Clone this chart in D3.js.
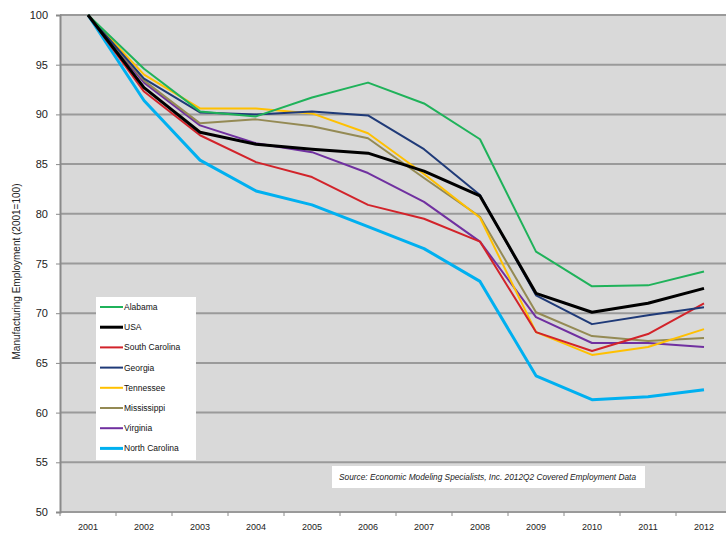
<!DOCTYPE html>
<html>
<head>
<meta charset="utf-8">
<script src="https://cdn.jsdelivr.net/npm/d3@7"></script>
<style>
  body { margin: 0; background: #fff; }
  svg { font-family: "Liberation Sans", Arial, sans-serif; }
</style>
</head>
<body>
<div id="chart"></div>
<script>
const years = ['2001', '2002', '2003', '2004', '2005', '2006', '2007', '2008', '2009', '2010', '2011', '2012'];
const yTicks = [50, 55, 60, 65, 70, 75, 80, 85, 90, 95, 100];

const alabama = [100, 94.6, 90.3, 89.8, 91.7, 93.2, 91.1, 87.5, 76.2, 72.7, 72.8, 74.2];
const usa = [100, 92.7, 88.2, 87.0, 86.5, 86.1, 84.3, 81.8, 72.0, 70.1, 71.0, 72.5];
const southCarolina = [100, 92.3, 87.9, 85.2, 83.7, 80.9, 79.5, 77.2, 68.1, 66.2, 67.9, 71.0];
const georgia = [100, 93.6, 90.2, 90.0, 90.3, 89.9, 86.5, 81.9, 71.8, 68.9, 69.8, 70.6];
const tennessee = [100, 94.0, 90.6, 90.6, 90.1, 88.1, 84.0, 79.6, 68.1, 65.8, 66.6, 68.4];
const mississippi = [100, 93.4, 89.1, 89.5, 88.8, 87.6, 83.6, 79.7, 70.1, 67.7, 67.2, 67.5];
const virginia = [100, 93.2, 88.9, 87.1, 86.2, 84.1, 81.2, 77.2, 69.6, 67.0, 67.0, 66.6];
const northCarolina = [100, 91.4, 85.4, 82.3, 80.9, 78.7, 76.5, 73.2, 63.7, 61.3, 61.6, 62.3];

const series = [
  { name: 'Alabama', values: alabama, color: '#1fb25a', width: 2 },
  { name: 'USA', values: usa, color: '#000000', width: 3 },
  { name: 'South Carolina', values: southCarolina, color: '#d2232a', width: 2 },
  { name: 'Georgia', values: georgia, color: '#1f3a78', width: 2 },
  { name: 'Tennessee', values: tennessee, color: '#ffc000', width: 2 },
  { name: 'Mississippi', values: mississippi, color: '#948a54', width: 2 },
  { name: 'Virginia', values: virginia, color: '#7030a0', width: 2 },
  { name: 'North Carolina', values: northCarolina, color: '#00b0f0', width: 3 },
];
// draw order: later ones on top
const drawOrder = ['North Carolina', 'Virginia', 'Mississippi', 'Tennessee', 'South Carolina', 'Georgia', 'Alabama', 'USA'];

const width = 726;
const height = 534;
const margin = { left: 60, top: 15, bottom: 22 };
const plotRight = 732;

const svg = d3.select('#chart').append('svg')
  .attr('width', width).attr('height', height);

const x = d3.scaleBand().domain(years).range([margin.left, plotRight]);
const y = d3.scaleLinear().domain([50, 100]).range([height - margin.bottom, margin.top]);

// plot background
svg.append('rect')
  .attr('x', margin.left).attr('y', y(100))
  .attr('width', plotRight - margin.left).attr('height', y(50) - y(100))
  .attr('fill', '#d9d9d9');

// gridlines
svg.append('g')
  .selectAll('line')
  .data(yTicks)
  .enter()
  .append('line')
  .attr('x1', margin.left).attr('x2', plotRight)
  .attr('y1', (d) => y(d)).attr('y2', (d) => y(d))
  .style('stroke', '#9a9a9a')
  .style('stroke-width', 2);

// y axis
const yAxis = svg.append('g')
  .attr('transform', `translate(${margin.left},0)`)
  .call(d3.axisLeft(y).tickValues(yTicks).tickSize(4).tickPadding(8));
yAxis.select('.domain').style('stroke', '#8a8a8a').style('stroke-width', 2);
yAxis.selectAll('.tick line').style('stroke', '#8a8a8a');
yAxis.selectAll('text').style('font-size', '11px').style('fill', '#222');

// x axis
const xAxis = svg.append('g')
  .attr('transform', `translate(0,${y(50)})`)
  .call(d3.axisBottom(x).tickSize(0).tickPadding(12));
xAxis.select('.domain').remove();
xAxis.selectAll('text').style('font-size', '9px').style('fill', '#222');
svg.append('g')
  .selectAll('line')
  .data(years)
  .enter()
  .append('line')
  .attr('x1', (d) => x(d)).attr('x2', (d) => x(d))
  .attr('y1', y(50)).attr('y2', y(50) + 4)
  .style('stroke', '#8a8a8a');

// y title
svg.append('text')
  .attr('transform', `translate(20,${(y(50) + y(100)) / 2 + 8}) rotate(-90)`)
  .attr('text-anchor', 'middle')
  .style('font-size', '10px')
  .style('fill', '#222')
  .text('Manufacturing Employment (2001=100)');

// lines
const line = d3.line()
  .x((d, i) => x(years[i]) + x.bandwidth() / 2)
  .y((d) => y(d));

svg.append('g')
  .selectAll('path')
  .data(drawOrder.map((n) => series.find((s) => s.name === n)))
  .enter()
  .append('path')
  .attr('d', (d) => line(d.values))
  .style('fill', 'none')
  .style('stroke', (d) => d.color)
  .style('stroke-width', (d) => d.width)
  .style('stroke-linejoin', 'round');

// legend
const legend = svg.append('g');
legend.append('rect')
  .attr('x', 96).attr('y', 297)
  .attr('width', 100).attr('height', 163)
  .attr('fill', '#fff');
const items = legend.selectAll('g.item')
  .data(series)
  .enter()
  .append('g')
  .attr('class', 'item')
  .attr('transform', (d, i) => `translate(100,${307 + i * 20.2})`);
items.append('line')
  .attr('x1', 0).attr('x2', 23)
  .style('stroke', (d) => d.color)
  .style('stroke-width', (d) => d.width);
items.append('text')
  .attr('x', 24).attr('dy', '0.35em')
  .style('font-size', '8.5px')
  .style('fill', '#111')
  .text((d) => d.name);

// source note
svg.append('rect')
  .attr('x', 332).attr('y', 466)
  .attr('width', 313).attr('height', 22)
  .attr('fill', '#fff');
svg.append('text')
  .attr('x', 339).attr('y', 480)
  .style('font-size', '8.3px')
  .style('font-style', 'italic')
  .style('fill', '#222')
  .text('Source: Economic Modeling Specialists, Inc. 2012Q2 Covered Employment Data');
</script>
</body>
</html>
